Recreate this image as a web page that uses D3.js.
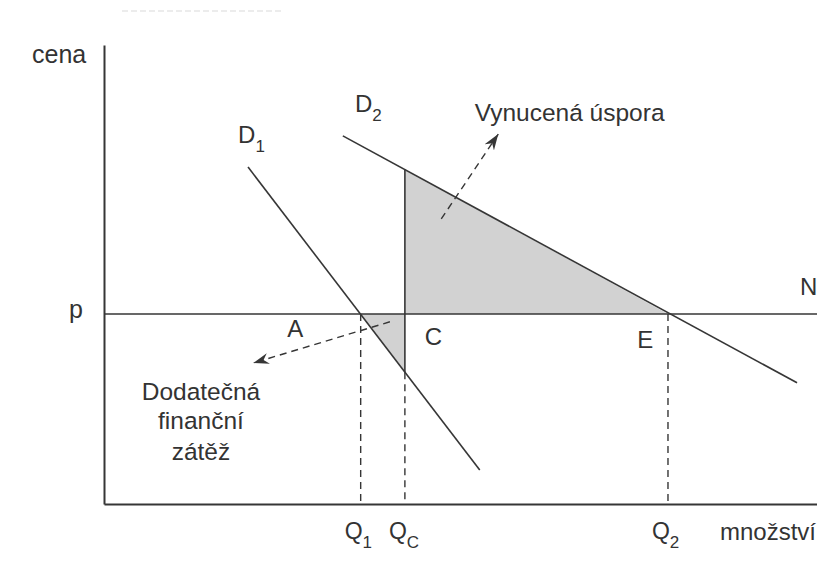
<!DOCTYPE html>
<html>
<head>
<meta charset="utf-8">
<script src="https://cdn.jsdelivr.net/npm/d3@7"></script>
<style>
  body { margin: 0; background: #fff; }
  svg text { font-family: "Liberation Sans", Arial, sans-serif; fill: #333; }
</style>
</head>
<body>
<div id="chart"></div>
<script>
// quantities (x) and price level (y), in chart units 0..10
const quantities = [
  {id: "Q1", q: 3.60, label: "Q", sub: "1"},
  {id: "QC", q: 4.22, label: "Q", sub: "C"},
  {id: "Q2", q: 7.91, label: "Q", sub: "2"}
];
const priceLevel = 4.14;

// demand curves, two end points each
const demand1 = [{q: 2.02, p: 7.34}, {q: 5.27, p: 0.74}];
const demand2 = [{q: 3.35, p: 8.02}, {q: 9.72, p: 2.64}];

// dashed arrows pointing to the explanations
const arrows = [
  [{q: 4.73, p: 6.21}, {q: 5.53, p: 8.06}],
  [{q: 4.01, p: 3.97}, {q: 2.09, p: 3.07}]
];

// text labels: [text, subscript, q, p, anchor]
const labels = [
  ["D", "1", 1.88, 7.86, "start"],
  ["D", "2", 3.52, 8.54, "start"],
  ["Vynucená úspora", "", 5.20, 8.34, "start"],
  ["N", "", 9.76, 4.55, "start"],
  ["A", "", 2.57, 3.64, "start"],
  ["C", "", 4.50, 3.46, "start"],
  ["E", "", 7.48, 3.40, "start"],
  ["Dodatečná", "", 1.36, 2.27, "middle"],
  ["finanční", "", 1.36, 1.64, "middle"],
  ["zátěž", "", 1.36, 0.96, "middle"]
];

const width = 817, height = 561;
const ink = "#363636";

const svg = d3.select("#chart").append("svg")
    .attr("width", width)
    .attr("height", height);

const x = d3.scaleLinear().domain([0, 10]).range([104, 817]);
const y = d3.scaleLinear().domain([0, 10]).range([504, 45]);

function along(line, q) {
  const [a, b] = line;
  return a.p + (b.p - a.p) * (q - a.q) / (b.q - a.q);
}

const qOf = id => quantities.find(d => d.id === id).q;
const q1 = qOf("Q1"), qc = qOf("QC"), q2 = qOf("Q2");

// shaded areas
const upper = [[qc, along(demand2, qc)], [qc, priceLevel], [q2, priceLevel]];
const lower = [[q1, priceLevel], [qc, priceLevel], [qc, along(demand1, qc)]];

const poly = d3.line().x(d => x(d[0])).y(d => y(d[1]));
svg.selectAll("path.shade")
  .data([upper, lower])
  .join("path")
    .attr("class", "shade")
    .attr("d", d => poly(d) + "Z")
    .attr("fill", "#d2d2d2");

// faint remnant of caption at the top of the scan
svg.append("line")
    .attr("x1", 122).attr("x2", 282).attr("y1", 11).attr("y2", 11)
    .attr("stroke", "#ececec").attr("stroke-width", 2)
    .attr("stroke-dasharray", "6,3");

// axes
svg.append("g")
    .attr("transform", `translate(0,${y(0)})`)
    .call(d3.axisBottom(x).tickValues([]).tickSizeOuter(0))
    .call(g => g.select(".domain").attr("stroke", ink).attr("stroke-width", 2));

svg.append("g")
    .attr("transform", `translate(${x(0)},0)`)
    .call(d3.axisLeft(y).tickValues([]).tickSizeOuter(0))
    .call(g => g.select(".domain").attr("stroke", ink).attr("stroke-width", 2));

// price line p (N)
svg.append("line")
    .attr("x1", x(0)).attr("x2", x(10))
    .attr("y1", y(priceLevel)).attr("y2", y(priceLevel))
    .attr("stroke", ink).attr("stroke-width", 1.6);

// vertical solid edge at QC
svg.append("line")
    .attr("x1", x(qc)).attr("x2", x(qc))
    .attr("y1", y(along(demand2, qc))).attr("y2", y(along(demand1, qc)))
    .attr("stroke", ink).attr("stroke-width", 1.6);

// dashed drop lines
const dropTop = {Q1: priceLevel, QC: along(demand1, qc), Q2: priceLevel};
svg.selectAll("line.drop")
  .data(quantities)
  .join("line")
    .attr("class", "drop")
    .attr("x1", d => x(d.q)).attr("x2", d => x(d.q))
    .attr("y1", d => y(dropTop[d.id])).attr("y2", y(0))
    .attr("stroke", ink).attr("stroke-width", 1.4)
    .attr("stroke-dasharray", "7,5");

// demand curves
const curve = d3.line().x(d => x(d.q)).y(d => y(d.p));
svg.selectAll("path.demand")
  .data([demand1, demand2])
  .join("path")
    .attr("class", "demand")
    .attr("d", curve)
    .attr("fill", "none")
    .attr("stroke", ink)
    .attr("stroke-width", 1.6);

// arrow heads
svg.append("defs").append("marker")
    .attr("id", "head")
    .attr("viewBox", "-16 -6 18 12")
    .attr("refX", 0).attr("refY", 0)
    .attr("markerWidth", 18).attr("markerHeight", 12)
    .attr("markerUnits", "userSpaceOnUse")
    .attr("orient", "auto")
  .append("path")
    .attr("d", "M0,0 L-16,-5.5 L-11,0 L-16,5.5 Z")
    .attr("fill", ink);

svg.selectAll("path.arrow")
  .data(arrows)
  .join("path")
    .attr("class", "arrow")
    .attr("d", curve)
    .attr("fill", "none")
    .attr("stroke", ink)
    .attr("stroke-width", 1.4)
    .attr("stroke-dasharray", "7,5")
    .attr("marker-end", "url(#head)");

// labels
const lab = svg.selectAll("text.lab")
  .data(labels)
  .join("text")
    .attr("class", "lab")
    .attr("x", d => x(d[2]))
    .attr("y", d => y(d[3]))
    .attr("text-anchor", d => d[4])
    .style("font-size", d => d[0].length > 1 ? "24.5px" : "24px");
lab.append("tspan").text(d => d[0]);
lab.filter(d => d[1]).append("tspan")
    .attr("dy", 9).style("font-size", "17px").text(d => d[1]);

// quantity tick labels
const ql = svg.selectAll("text.qlab")
  .data(quantities)
  .join("text")
    .attr("class", "qlab")
    .attr("x", d => x(d.q) - 16)
    .attr("y", y(0) + 35)
    .style("font-size", "23px");
ql.append("tspan").text(d => d.label);
ql.append("tspan").attr("dy", 9).style("font-size", "17px").text(d => d.sub);

// axis names and p
svg.append("text").attr("x", x(0) - 72).attr("y", y(10) + 18)
    .style("font-size", "25px").text("cena");
svg.append("text").attr("x", x(0) - 21).attr("y", y(priceLevel) + 4)
    .attr("text-anchor", "end").style("font-size", "25px").text("p");
svg.append("text").attr("x", 720).attr("y", y(0) + 36)
    .style("font-size", "24px").text("množství");
</script>
</body>
</html>
